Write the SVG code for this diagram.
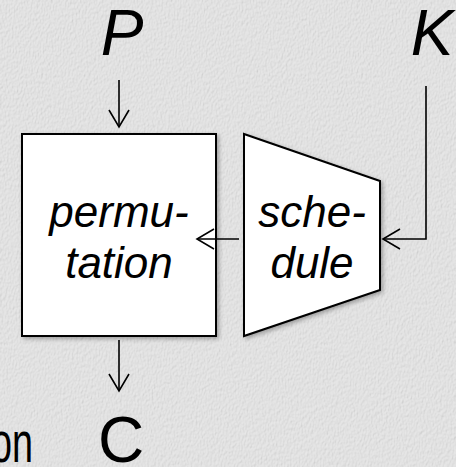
<svg xmlns="http://www.w3.org/2000/svg" width="456" height="467" viewBox="0 0 456 467">
  <defs>
    <filter id="paper" x="0" y="0" width="100%" height="100%">
      <feTurbulence type="fractalNoise" baseFrequency="0.8 0.3" numOctaves="3" seed="4" result="n"/>
      <feDiffuseLighting in="n" surfaceScale="0.8" lighting-color="#ebebeb" result="lit">
        <feDistantLight azimuth="225" elevation="65"/>
      </feDiffuseLighting>
      <feComposite in="lit" in2="SourceGraphic" operator="in"/>
    </filter>
    <filter id="shadow" x="-10%" y="-10%" width="125%" height="125%">
      <feDropShadow dx="2" dy="2" stdDeviation="2" flood-color="#000" flood-opacity="0.3"/>
    </filter>
    <marker id="arr" markerUnits="userSpaceOnUse" markerWidth="24" markerHeight="24" viewBox="-20 -12 24 24" refX="0" refY="0" orient="auto" overflow="visible">
      <path d="M-17,-10 L0,0 L-17,10" fill="none" stroke="#000" stroke-width="1.6"/>
    </marker>
  </defs>
  <style>
    .node { fill: #fff; stroke: #000; stroke-width: 2; filter: url(#shadow); }
    .lbl { font-family: "Liberation Sans", Arial, sans-serif; font-style: italic; font-size: 44px; fill: #000; text-anchor: middle; }
    .var { font-family: "Liberation Sans", Arial, sans-serif; font-style: italic; font-size: 64px; fill: #000; text-anchor: middle; }
    .conn { fill: none; stroke: #000; stroke-width: 1.6; marker-end: url(#arr); }
  </style>
  <rect x="0" y="0" width="456" height="467" fill="#e3e3e3"/>
  <rect x="0" y="0" width="456" height="467" fill="#e3e3e3" filter="url(#paper)" opacity="0.7"/>

  <g id="connectors">
    <path class="conn" d="M119,80 L119,127"/>
    <path class="conn" d="M426,86 L426,239 L383,239"/>
    <path class="conn" d="M119,340 L119,391"/>
  </g>

  <g id="permutation">
    <rect class="node" x="22" y="134" width="194" height="202"/>
    <text class="lbl" x="119" y="227">permu-</text>
    <text class="lbl" x="119" y="278">tation</text>
  </g>

  <g id="schedule">
    <polygon class="node" points="244,134 380,181 380,290 244,336"/>
    <text class="lbl" x="312" y="227">sche-</text>
    <text class="lbl" x="312" y="278">dule</text>
  </g>

  <g id="connectors-top">
    <path class="conn" d="M239,239 L197,239"/>
  </g>

  <g id="P">
    <text class="var" x="122" y="55">P</text>
  </g>
  <g id="K">
    <text class="var" x="432" y="55">K</text>
  </g>
  <g id="C">
    <text class="var" x="121" y="462" style="font-style:normal">C</text>
  </g>
  <text x="33" y="462" font-family="'Liberation Sans', Arial, sans-serif" font-size="58" text-anchor="end" textLength="42" lengthAdjust="spacingAndGlyphs">on</text>
</svg>
